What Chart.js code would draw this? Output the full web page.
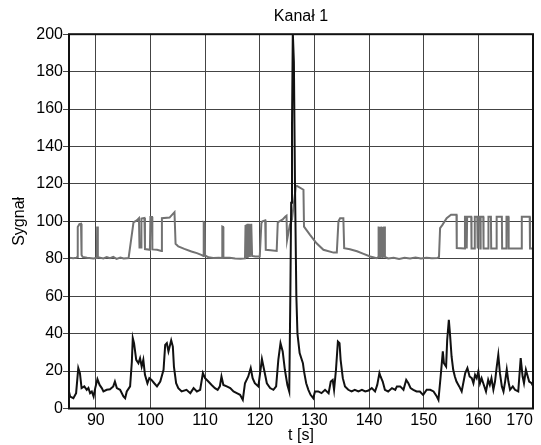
<!DOCTYPE html>
<html>
<head>
<meta charset="utf-8">
<script src="https://cdn.jsdelivr.net/npm/chart.js@4.4.1/dist/chart.umd.min.js"></script>
<style>
  html, body { margin: 0; padding: 0; background: #fff; }
  #wrap { width: 541px; height: 445px; position: relative; }
</style>
</head>
<body>
<div id="wrap"><canvas id="myChart"></canvas></div>
<script>
const xMin = 85.1;
const xMax = 170;
const xTicks = [90, 100, 110, 120, 130, 140, 150, 160, 170];

// grey trace (t [s], value)
const grayT = [85.1, 85.9, 86.5, 86.6, 86.7, 87.0, 87.3, 87.4, 87.6, 88.4, 89.6, 90.2, 90.25, 90.35, 90.4,
  91.4, 92.0, 92.6, 93.2, 93.8, 94.5, 95.1, 96.0, 96.6, 96.9, 97.5, 97.9, 98.0, 98.3, 98.35, 98.9, 99.0,
  99.9, 100.0, 100.3, 100.35, 101.2, 102.0, 102.1, 103.5, 104.4, 104.6, 105.1, 106.2, 107.5, 108.5, 109.4,
  109.7, 109.75, 109.9, 110.0, 110.6, 111.5, 112.5, 113.1, 113.15, 113.3, 113.35, 114.5, 115.5, 116.5,
  117.3, 117.4, 117.5, 117.6, 117.7, 117.8, 117.9, 118.0, 118.1, 118.2, 118.3, 118.45, 118.6, 119.2,
  120.0, 120.3, 120.5, 121.0, 121.1, 122.0, 123.1, 123.3, 123.6, 124.2, 124.7, 124.9, 125.0, 125.5,
  125.9, 126.6, 126.8, 128.0, 128.1, 129.2, 130.4, 131.65, 133.5, 134.1, 134.4, 134.7, 135.3, 135.45,
  136.5, 137.8, 139.0, 140.2, 141.4, 141.7, 141.75, 141.9, 142.0, 142.15, 142.25, 142.4, 142.5, 142.65,
  142.75, 142.9, 143.5, 144.5, 145.5, 146.5, 147.5, 148.5, 149.5, 150.5, 151.5, 152.5, 152.8, 153.0,
  153.4, 154.2, 155.0, 156.0, 156.05, 157.5, 157.55, 157.8, 157.85, 157.9, 157.95, 158.7, 158.75, 159.3,
  159.35, 159.8, 159.85, 159.9, 159.95, 160.3, 160.35, 160.4, 160.45, 160.9, 160.95, 161.8, 161.85,
  162.3, 162.35, 163.3, 163.35, 164.3, 164.35, 165.1, 165.15, 165.5, 165.55, 167.9, 167.95, 169.4,
  169.45, 170];
const grayV = [80.5, 80.3, 80.6, 81, 97, 98.5, 98.7, 82, 81, 80.5, 80.2, 80.5, 97.2, 97, 80.8,
  80.2, 80.9, 80.3, 81, 79.9, 80.7, 80.2, 80.4, 93, 99.5, 100.5, 101.7, 86, 86, 101.5, 101.8, 85.2,
  84.8, 102.3, 102.3, 85, 84.8, 84.2, 101.7, 102, 104.9, 88, 86.6, 85.3, 83.9, 83, 82,
  81.5, 99.4, 99, 81.8, 80.8, 80.4, 80.6, 80.4, 97.2, 97, 80.5, 80.5, 80.1, 80,
  80.2, 98, 81, 98.5, 81, 98.7, 82, 98.7, 81.5, 98.5, 82, 98.7, 81.5, 81.2,
  81.2, 99, 100, 100.5, 84.8, 84.5, 84.2, 99.5, 100, 101, 102.6, 103, 90, 98,
  101, 118.7, 119, 116.9, 97.2, 92.8, 88.3, 84.8, 83.3, 83.3, 100, 101.7, 101.7, 85.7,
  85.1, 84, 82.6, 81.2, 80.3, 81, 97.2, 81, 97, 81, 97.2, 81, 97, 81,
  97.2, 81, 80.2, 80.6, 79.9, 80.5, 80.2, 80.7, 80.1, 80.6, 80.3, 80.4, 81, 96.4,
  98, 101.7, 103.5, 103.5, 85.7, 85.5, 102.5, 102.5, 85.5, 85.5, 102.5, 102.5, 85.5, 85.5,
  102.5, 102.5, 85.5, 85.5, 102.5, 102.5, 85.5, 85.5, 102.5, 102.5, 85.5, 85.5, 102.5,
  102.5, 85.5, 85.5, 102.5, 102.5, 85.5, 85.5, 102.5, 102.5, 85.5, 85.5, 102.5, 102.5,
  85.5, 85.5];

// black trace (t [s], value)
const blackT = [85.1, 85.3, 85.9, 86.4, 86.8, 87.1, 87.4, 87.9, 88.35, 88.65, 88.96, 89.27, 89.6, 89.9,
  90.3, 90.7, 91.1, 91.4, 92.0, 92.6, 93.2, 93.5, 93.85, 94.45, 95.06, 95.37, 95.67, 96.28, 96.6, 96.77,
  97.0, 97.4, 97.8, 98.1, 98.4, 98.7, 99.0, 99.45, 99.8, 100.2, 100.7, 101.2, 101.8, 102.4, 102.7, 103.0,
  103.3, 103.8, 104.1, 104.3, 104.7, 105.1, 105.7, 106.6, 107.3, 107.9, 108.5, 109.1, 109.6, 110.0,
  110.6, 111.2, 111.8, 112.3, 112.7, 113.0, 113.35, 113.96, 114.6, 115.2, 115.8, 116.4, 116.9, 117.3,
  117.9, 118.35, 118.7, 119.1, 119.75, 120.4, 120.8, 121.3, 121.9, 122.5, 123.0, 123.4, 123.8, 124.2,
  124.6, 125.06, 125.4, 125.6, 125.75, 125.9, 126.05, 126.25, 126.45, 126.7, 126.9, 127.3, 127.9, 128.1,
  128.5, 128.9, 129.3, 129.8, 130.1, 130.7, 131.3, 131.95, 132.6, 133.0, 133.35, 133.6, 133.95, 134.3,
  134.6, 134.8, 135.2, 135.6, 136.2, 136.8, 137.4, 138.05, 138.7, 139.3, 139.9, 140.5, 141.1, 141.5,
  141.9, 142.1, 142.5, 142.9, 143.5, 144.2, 144.8, 145.1, 145.7, 146.3, 146.8, 147.2, 147.6, 148.1,
  148.7, 149.3, 149.9, 150.55, 151.2, 151.8, 152.4, 152.7, 153.1, 153.5, 153.7, 154.1, 154.3, 154.6,
  154.8, 155.1, 155.4, 155.7, 156.0, 156.5, 156.95, 157.3, 157.6, 158.0, 158.4, 158.8, 159.1, 159.4,
  159.7, 160.0, 160.3, 160.6, 160.9, 161.4, 161.8, 162.1, 162.4, 162.75, 163.05, 163.35, 163.65, 163.95,
  164.3, 164.6, 164.9, 165.2, 165.5, 165.8, 166.3, 166.7, 167.3, 167.75, 168.1, 168.35, 168.7, 168.95,
  169.3, 169.75, 170];
const blackV = [9, 6.4, 5.5, 8.2, 21.6, 18.9, 10.9, 11.8, 10, 11, 8.2, 9.1, 6.4, 10.9,
  15.7, 12.6, 10.9, 9.1, 10, 10.3, 11.8, 14.4, 10.9, 10, 6.4, 5.5, 9.1, 11.8, 25, 37.6,
  34.9, 26, 24.2, 26.9, 22.4, 26, 18, 13.5, 16.2, 15.3, 13.5, 11.8, 14.4, 20.7, 34, 34.9,
  30.5, 36.4, 33.1, 22.4, 13.5, 10.9, 9.1, 10, 8.2, 10.9, 9.1, 10, 18.9, 16.2,
  14.4, 12.6, 10.9, 10, 11.8, 17.1, 12.6, 11.8, 10.9, 9.1, 8.2, 7.3, 4.6, 13.5,
  17.1, 21.6, 16.2, 13.5, 11.8, 26.4, 20.7, 13.5, 10.9, 10, 11.8, 26, 34.9, 30.5,
  20.7, 12.6, 9.1, 60, 110, 150, 201, 185, 120, 60, 40, 29.6, 24.2, 19.8,
  13.5, 10, 7.3, 5.5, 9.1, 9.1, 8.2, 10, 8.2, 14.4, 15.3, 10, 20.7, 35.8,
  34.9, 26, 16.2, 11.8, 10, 9.1, 10, 9.1, 10, 9.1, 9.6, 10.9, 9.1, 12.6,
  18.9, 17.1, 14.4, 10, 9.1, 10.9, 10, 11.8, 11.8, 10, 15.3, 13.5, 10.9, 10,
  9.1, 9.1, 7.3, 10, 10, 9.1, 6.4, 4.6, 17.1, 30.5, 24.2, 22.4, 36.7, 47.4,
  40.3, 27.8, 20.7, 17.1, 14.4, 11.8, 9.1, 14.4, 18.9, 21.6, 17.1, 16.2, 13.5, 18,
  16.2, 19.8, 13.5, 16.2, 13.5, 9.1, 15.3, 12.6, 16.2, 10, 14.4, 22, 28.7, 18.9,
  11.8, 9.1, 14.4, 20.9, 14.4, 10, 11.8, 10, 9.1, 26.9, 17.1, 13.5, 20.7, 18,
  14.4, 13.5, 12];

const font = { family: "'Liberation Sans', Arial, sans-serif", size: 16 };

const toPoints = (ts, vs) => ts.map((t, i) => ({ x: t, y: vs[i] }));

// keep the title centred over the plot area, not the whole canvas
const centerTitle = {
  id: "centerTitle",
  afterLayout(chart) {
    const t = chart.titleBlock;
    if (t) {
      t.left = chart.chartArea.left;
      t.right = chart.chartArea.right;
    }
  },
};

// black box round the plot area
const frame = {
  id: "frame",
  afterDatasetsDraw(chart) {
    const { ctx, chartArea } = chart;
    ctx.save();
    ctx.strokeStyle = "#111";
    ctx.lineWidth = 2;
    ctx.strokeRect(chartArea.left, chartArea.top, chartArea.right - chartArea.left, chartArea.bottom - chartArea.top);
    ctx.restore();
  },
};

const ctx = document.getElementById("myChart").getContext("2d");
const myChart = new Chart(ctx, {
  type: "line",
  data: {
    datasets: [
      {
        label: "black",
        data: toPoints(blackT, blackV),
        borderColor: "#111",
        borderWidth: 2,
        pointRadius: 0,
        tension: 0,
      },
      {
        label: "grey",
        data: toPoints(grayT, grayV),
        borderColor: "#727272",
        borderWidth: 2,
        pointRadius: 0,
        tension: 0,
      },
    ],
  },
  options: {
    responsive: true,
    maintainAspectRatio: false,
    animation: false,
    layout: { padding: { left: 0, right: 8, top: 0, bottom: 0 } },
    plugins: {
      legend: { display: false },
      tooltip: { enabled: false },
      title: {
        display: true,
        text: "Kanał 1",
        color: "#000",
        font: { ...font, weight: "normal" },
        padding: { top: 7, bottom: 8 },
      },
    },
    scales: {
      x: {
        type: "linear",
        min: xMin,
        max: xMax,
        afterBuildTicks: (scale) => {
          scale.ticks = [xMin, ...xTicks].map((v) => ({ value: v }));
        },
        afterFit: (scale) => {
          scale.height = 36.5;
        },
        border: { display: false },
        grid: { color: "#444", drawTicks: false },
        ticks: {
          align: "inner",
          autoSkip: false,
          maxRotation: 0,
          padding: 2,
          color: "#000",
          font: font,
          callback: (v) => (xTicks.includes(v) ? String(v) : ""),
        },
        title: {
          display: true,
          text: "t [s]",
          color: "#000",
          font: font,
          padding: { top: 0, bottom: 0 },
        },
      },
      y: {
        min: 0,
        max: 200,
        afterFit: (scale) => {
          scale.width = 69;
        },
        border: { display: false },
        grid: { color: "#444", tickLength: 6 },
        ticks: { stepSize: 20, padding: 0, color: "#000", font: font },
        title: {
          display: true,
          text: "Sygnał",
          color: "#000",
          font: font,
          padding: { top: 10, bottom: 0 },
        },
      },
    },
  },
  plugins: [centerTitle, frame],
});
</script>
</body>
</html>
